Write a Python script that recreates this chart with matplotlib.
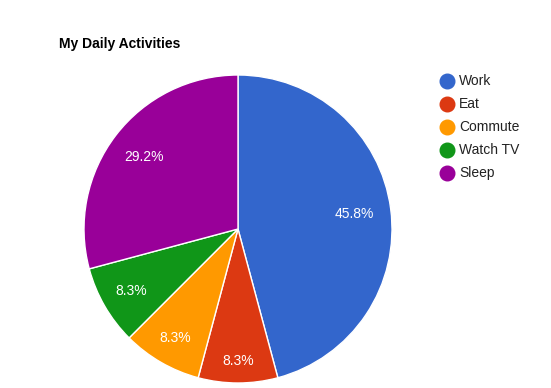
import matplotlib
matplotlib.use("Agg")
import matplotlib.pyplot as plt
from matplotlib.lines import Line2D

plt.rcParams["font.family"] = ["Liberation Sans", "DejaVu Sans"]

# Dane
activities = ["Work", "Eat", "Commute", "Watch TV", "Sleep"]
hours = [11, 2, 2, 2, 7]
colors = ["#3366cc", "#dc3912", "#ff9900", "#109618", "#990099"]
label_dist = [0.76, 0.86, 0.82, 0.80, 0.77]

W, H = 551, 388
fig = plt.figure(figsize=(W / 100, H / 100), dpi=100)

# Wykres kołowy
cx, cy, r = 238, 229, 154
ax = fig.add_axes([(cx - r) / W, 1 - (cy + r) / H, 2 * r / W, 2 * r / H])
wedges, texts, autotexts = ax.pie(
    hours, colors=colors, startangle=90, counterclock=False,
    autopct="%.1f%%", pctdistance=0.76,
    wedgeprops={"edgecolor": "white", "linewidth": 1},
    textprops={"color": "white", "fontsize": 10},
)
# przesunięcie etykiet procentowych jak w Google Charts
for w, t, d in zip(wedges, autotexts, label_dist):
    x, y = t.get_position()
    k = d / 0.76
    t.set_position((x * k, y * k))
ax.set_xlim(-1, 1)
ax.set_ylim(-1, 1)
ax.axis("off")

fig.text(59 / W, 1 - 44 / H, "My Daily Activities", fontsize=10,
         fontweight="bold", va="center", ha="left")

# Legenda
for i, (name, c) in enumerate(zip(activities, colors)):
    y = 1 - (81 + 23 * i) / H
    fig.add_artist(Line2D([447 / W], [y], marker="o", markersize=10.5,
                          color=c, linestyle="none", transform=fig.transFigure))
    fig.text(459 / W, y, name, fontsize=10, color="#222222", va="center", ha="left")

plt.savefig("out.png", dpi=100)
plt.close()
